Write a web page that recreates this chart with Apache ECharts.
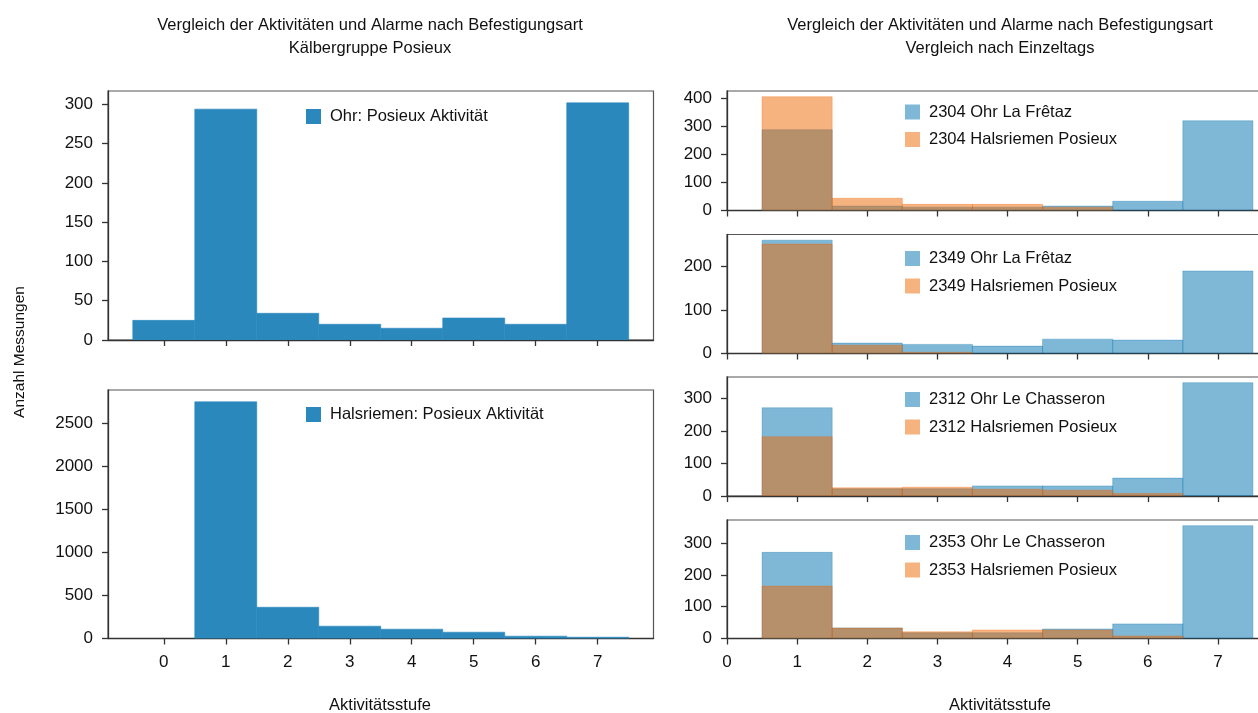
<!DOCTYPE html>
<html>
<head>
<meta charset="utf-8">
<script src="https://cdn.jsdelivr.net/npm/echarts@6/dist/echarts.min.js"></script>
<style>
html,body{margin:0;padding:0;background:#fff;}
#chart{width:1258px;height:713px;}
</style>
</head>
<body>
<div id="chart"></div>
<script>
// ---- data ----
const levels = [0, 1, 2, 3, 4, 5, 6, 7];
const ohrPosieux = [25, 294, 34, 20, 15, 28, 20, 302];
const halsPosieux = [0, 2750, 363, 143, 108, 73, 27, 15];
const ohr2304 = [0, 289, 16, 12, 12, 16, 33, 321];
const hals2304 = [0, 407, 44, 22, 22, 12, 0, 0];
const ohr2349 = [0, 261, 24, 21, 17, 33, 31, 190];
const hals2349 = [0, 252, 19, 3, 0, 0, 0, 0];
const ohr2312 = [0, 271, 22, 22, 31, 31, 55, 348];
const hals2312 = [0, 182, 25, 27, 21, 18, 8, 0];
const ohr2353 = [0, 271, 33, 18, 18, 30, 46, 355];
const hals2353 = [0, 165, 33, 21, 27, 27, 8, 0];
const ticksLeftTop = [0, 50, 100, 150, 200, 250, 300];
const ticksLeftBottom = [0, 500, 1000, 1500, 2000, 2500];
const ticks2304 = [0, 100, 200, 300, 400];
const ticks2349 = [0, 100, 200];
const ticks2312 = [0, 100, 200, 300];
const ticks2353 = [0, 100, 200, 300];
const titleLine1 = 'Vergleich der Aktivitäten und Alarme nach Befestigungsart';
const titleLeft2 = 'Kälbergruppe Posieux';
const titleRight2 = 'Vergleich nach Einzeltags';
const xName = 'Aktivitätsstufe';
const yName = 'Anzahl Messungen';

// ---- styles ----
const FONT = '"Liberation Sans", Arial, sans-serif';
const TXT = '#111';
const LINE = '#333';
const blueSolid = '#2a88bc';
const blueAlpha = 'rgba(0,113,175,0.5)';
const orangeAlpha = 'rgba(238,102,0,0.5)';
const blueLegend = '#7fb8d7';
const orangeLegend = '#f6b27f';

const panels = [
  {grid:{left:108, top:91, width:545.5, height:249}, xMin:-0.9, xMax:7.9, yTicks:ticksLeftTop, xLabels:false,
   legend:{left:306, top:108},
   series:[{name:'Ohr: Posieux Aktivität', values:ohrPosieux, fill:blueSolid, legend:blueSolid}]},
  {grid:{left:108, top:390, width:545.5, height:248.5}, xMin:-0.9, xMax:7.9, yTicks:ticksLeftBottom, xLabels:true,
   legend:{left:306, top:406},
   series:[{name:'Halsriemen: Posieux Aktivität', values:halsPosieux, fill:blueSolid, legend:blueSolid}]},
  {grid:{left:727, top:91, width:561, height:119.5}, xMin:0, xMax:8, yTicks:ticks2304, xLabels:false,
   legend:{left:905, top:103.5},
   series:[{name:'2304 Ohr La Frêtaz', values:ohr2304, fill:blueAlpha, legend:blueLegend},
           {name:'2304 Halsriemen Posieux', values:hals2304, fill:orangeAlpha, legend:orangeLegend}]},
  {grid:{left:727, top:234.5, width:561, height:119}, xMin:0, xMax:8, yTicks:ticks2349, xLabels:false,
   legend:{left:905, top:250},
   series:[{name:'2349 Ohr La Frêtaz', values:ohr2349, fill:blueAlpha, legend:blueLegend},
           {name:'2349 Halsriemen Posieux', values:hals2349, fill:orangeAlpha, legend:orangeLegend}]},
  {grid:{left:727, top:377, width:561, height:119}, xMin:0, xMax:8, yTicks:ticks2312, xLabels:false,
   legend:{left:905, top:391},
   series:[{name:'2312 Ohr Le Chasseron', values:ohr2312, fill:blueAlpha, legend:blueLegend},
           {name:'2312 Halsriemen Posieux', values:hals2312, fill:orangeAlpha, legend:orangeLegend}]},
  {grid:{left:727, top:520, width:561, height:118.5}, xMin:0, xMax:8, yTicks:ticks2353, xLabels:true,
   legend:{left:905, top:534},
   series:[{name:'2353 Ohr Le Chasseron', values:ohr2353, fill:blueAlpha, legend:blueLegend},
           {name:'2353 Halsriemen Posieux', values:hals2353, fill:orangeAlpha, legend:orangeLegend}]}
];

const grids = [], xAxes = [], yAxes = [], series = [], legends = [];
panels.forEach((p, i) => {
  grids.push(Object.assign({show:true, borderColor:'#555', borderWidth:1.2, containLabel:false, outerBoundsMode:'none'}, p.grid));
  let ymax = 0;
  p.series.forEach(s => s.values.forEach(v => { if (v > ymax) ymax = v; }));
  ymax = ymax * 1.05;
  xAxes.push({
    gridIndex:i, type:'value', min:p.xMin, max:p.xMax,
    axisLine:{show:true, onZero:false, lineStyle:{color:LINE, width:1.3}},
    axisTick:{show:true, length:6, customValues:levels, lineStyle:{color:LINE, width:1.3}},
    axisLabel:{show:p.xLabels, customValues:levels, margin:15, fontSize:17, color:TXT, fontFamily:FONT,
               formatter:v => String(v)},
    splitLine:{show:false}
  });
  yAxes.push({
    gridIndex:i, type:'value', min:0, max:ymax,
    axisLine:{show:true, onZero:false, lineStyle:{color:LINE, width:1.3}},
    axisTick:{show:true, length:6, customValues:p.yTicks, lineStyle:{color:LINE, width:1.3}},
    axisLabel:{show:true, customValues:p.yTicks, margin:15, fontSize:17, color:TXT, fontFamily:FONT,
               formatter:v => String(v)},
    splitLine:{show:false}
  });
  p.series.forEach(s => {
    const fill = s.fill;
    series.push({
      type:'custom', name:s.name, xAxisIndex:i, yAxisIndex:i,
      data: levels.map((l, k) => [l, s.values[k]]),
      encode:{x:0, y:1},
      itemStyle:{color:fill},
      silent:true, animation:false, clip:true,
      renderItem:(params, api) => {
        const x = api.value(0), y = api.value(1);
        if (!y) return null;
        const a = api.coord([x - 0.5, 0]);
        const b = api.coord([x + 0.5, y]);
        return {type:'rect', shape:{x:a[0], y:b[1], width:b[0] - a[0], height:a[1] - b[1]},
                style:{fill:fill, stroke:fill, lineWidth:0.6}};
      }
    });
  });
  legends.push({
    left:p.legend.left, top:p.legend.top, orient:'vertical', padding:0,
    itemWidth:15, itemHeight:15, itemGap:10.5, icon:'rect', selectedMode:false,
    textStyle:{fontSize:16.5, color:TXT, fontFamily:FONT, lineHeight:15, padding:[0,0,0,4]},
    data:p.series.map(s => ({name:s.name, itemStyle:{color:s.legend}}))
  });
});

const textEl = (x, y, t, size, rot) => ({
  type:'text', x:x, y:y, rotation:rot || 0,
  style:{text:t, textAlign:'center', textVerticalAlign:'middle', fontSize:size, fontFamily:FONT, fill:TXT}
});

const chart = echarts.init(document.getElementById('chart'), null, {renderer:'canvas'});
chart.setOption({
  backgroundColor:'#fff',
  animation:false,
  grid:grids, xAxis:xAxes, yAxis:yAxes, series:series, legend:legends,
  graphic:[
    textEl(370, 25, titleLine1, 16.5),
    textEl(370, 48, titleLeft2, 16.5),
    textEl(1000, 25, titleLine1, 16.5),
    textEl(1000, 48, titleRight2, 16.5),
    textEl(380, 705, xName, 16.5),
    textEl(1000, 705, xName, 16.5),
    textEl(20, 352, yName, 15.5, Math.PI / 2)
  ]
});
</script>
</body>
</html>
